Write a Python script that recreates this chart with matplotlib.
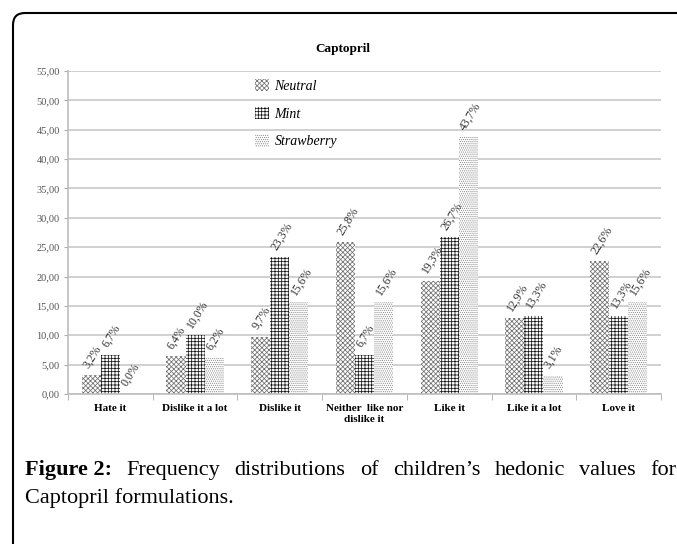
import matplotlib
matplotlib.use('Agg')
import matplotlib.pyplot as plt
from matplotlib.patches import Patch, FancyBboxPatch
from matplotlib.transforms import IdentityTransform
import numpy as np

# Chart data
categories = ['Hate it', 'Dislike it a lot', 'Dislike it',
              'Neither  like nor\ndislike it', 'Like it', 'Like it a lot', 'Love it']
series_names = ['Neutral', 'Mint', 'Strawberry']
neutral = [3.2, 6.4, 9.7, 25.8, 19.3, 12.9, 22.6]
mint = [6.7, 10.0, 23.3, 6.7, 26.7, 13.3, 13.3]
strawberry = [0.0, 6.2, 15.6, 15.6, 43.7, 3.1, 15.6]
yticks = [0, 5, 10, 15, 20, 25, 30, 35, 40, 45, 50, 55]

caption_bold = 'Figure 2:'
caption_line1 = 'Frequency distributions of children\u2019s hedonic values for'
caption_line2 = 'Captopril formulations.'

W, H = 677, 544
plt.rcParams['font.family'] = ['Liberation Serif', 'DejaVu Serif']
plt.rcParams['hatch.linewidth'] = 0.55

fig = plt.figure(figsize=(W / 100, H / 100), dpi=100)
ax = fig.add_axes([68 / W, 1 - 394 / H, (661 - 68) / W, (394 - 71) / H])

# hatch textures standing in for the original fill patterns
styles = [
    dict(hatch='xxxxxxx', edgecolor='#707070'),
    dict(hatch='+++++', edgecolor='#151515'),
    dict(hatch='........', edgecolor='#8c8c8c'),
]
x = np.arange(len(categories))
width = 0.225
for i, (vals, st) in enumerate(zip([neutral, mint, strawberry], styles)):
    xs = x + (i - 1) * width
    ax.bar(xs, vals, width, color='white', linewidth=0, zorder=2, **st)
    for xi, v in zip(xs, vals):
        ax.annotate(('%.1f%%' % v).replace('.', ','), (xi, v),
                    xytext=(-4, 6), textcoords='offset points',
                    rotation=58, rotation_mode='anchor',
                    ha='left', va='center', fontsize=8.5, color='#333333')

ax.set_xlim(-0.5, len(categories) - 0.5)
ax.set_ylim(0, 55)
ax.set_yticks(yticks)
ax.set_yticklabels([('%.2f' % t).replace('.', ',') for t in yticks],
                   fontsize=7.5, color='#555555')
ax.yaxis.grid(True, color='#c8c8c8', linewidth=1.2, zorder=0)
ax.set_axisbelow(True)

ax.set_xticks(x)
ax.set_xticklabels(categories, fontsize=8, fontweight='bold', linespacing=1.35)
ax.set_xticks(np.arange(len(categories) + 1) - 0.5, minor=True)
ax.tick_params(axis='x', which='major', length=0, pad=7)
ax.tick_params(axis='x', which='minor', length=4, color='#aaaaaa', direction='out')
ax.tick_params(axis='y', length=3, color='#aaaaaa', pad=3)

for s in ['top', 'right']:
    ax.spines[s].set_visible(False)
for s in ['left', 'bottom']:
    ax.spines[s].set_color('#bdbdbd')
    ax.spines[s].set_linewidth(1.2)

fig.text(343 / W, 1 - 49 / H, 'Captopril', fontsize=9.5, fontweight='bold',
         ha='center', va='center')

handles = [Patch(facecolor='white', linewidth=0, **st) for st in styles]
fig.legend(handles, series_names, loc='upper left',
           bbox_to_anchor=(255 / W, 1 - 79 / H), frameon=False,
           prop=dict(family='Liberation Serif', style='italic', size=10),
           handlelength=1.0, handleheight=1.0, handletextpad=0.4,
           labelspacing=0.98, borderpad=0, borderaxespad=0)

# Rounded frame around figure + caption
frame = FancyBboxPatch((13, -30), 720, H - 13 + 30,
                       boxstyle='round,pad=0,rounding_size=12',
                       transform=IdentityTransform(), facecolor='none',
                       edgecolor='black', linewidth=1.5)
fig.patches.append(frame)

# Justified caption, first line
fig.canvas.draw()
renderer = fig.canvas.get_renderer()
left, right = 25, 676
y1, y2 = 1 - 475 / H, 1 - 503 / H
words = [(caption_bold, 'bold')] + [(w, 'normal') for w in caption_line1.split()]
texts = []
for w, fw in words:
    t = fig.text(0, y1, w, fontsize=16, fontweight=fw, va='baseline')
    texts.append(t)
widths = [t.get_window_extent(renderer).width for t in texts]
gap = (right - left - sum(widths)) / (len(texts) - 1)
pos = left
for t, wd in zip(texts, widths):
    t.set_x(pos / W)
    pos += wd + gap
fig.text(left / W, y2, caption_line2, fontsize=16, va='baseline')

fig.savefig('out.png', dpi=100)
plt.close(fig)
